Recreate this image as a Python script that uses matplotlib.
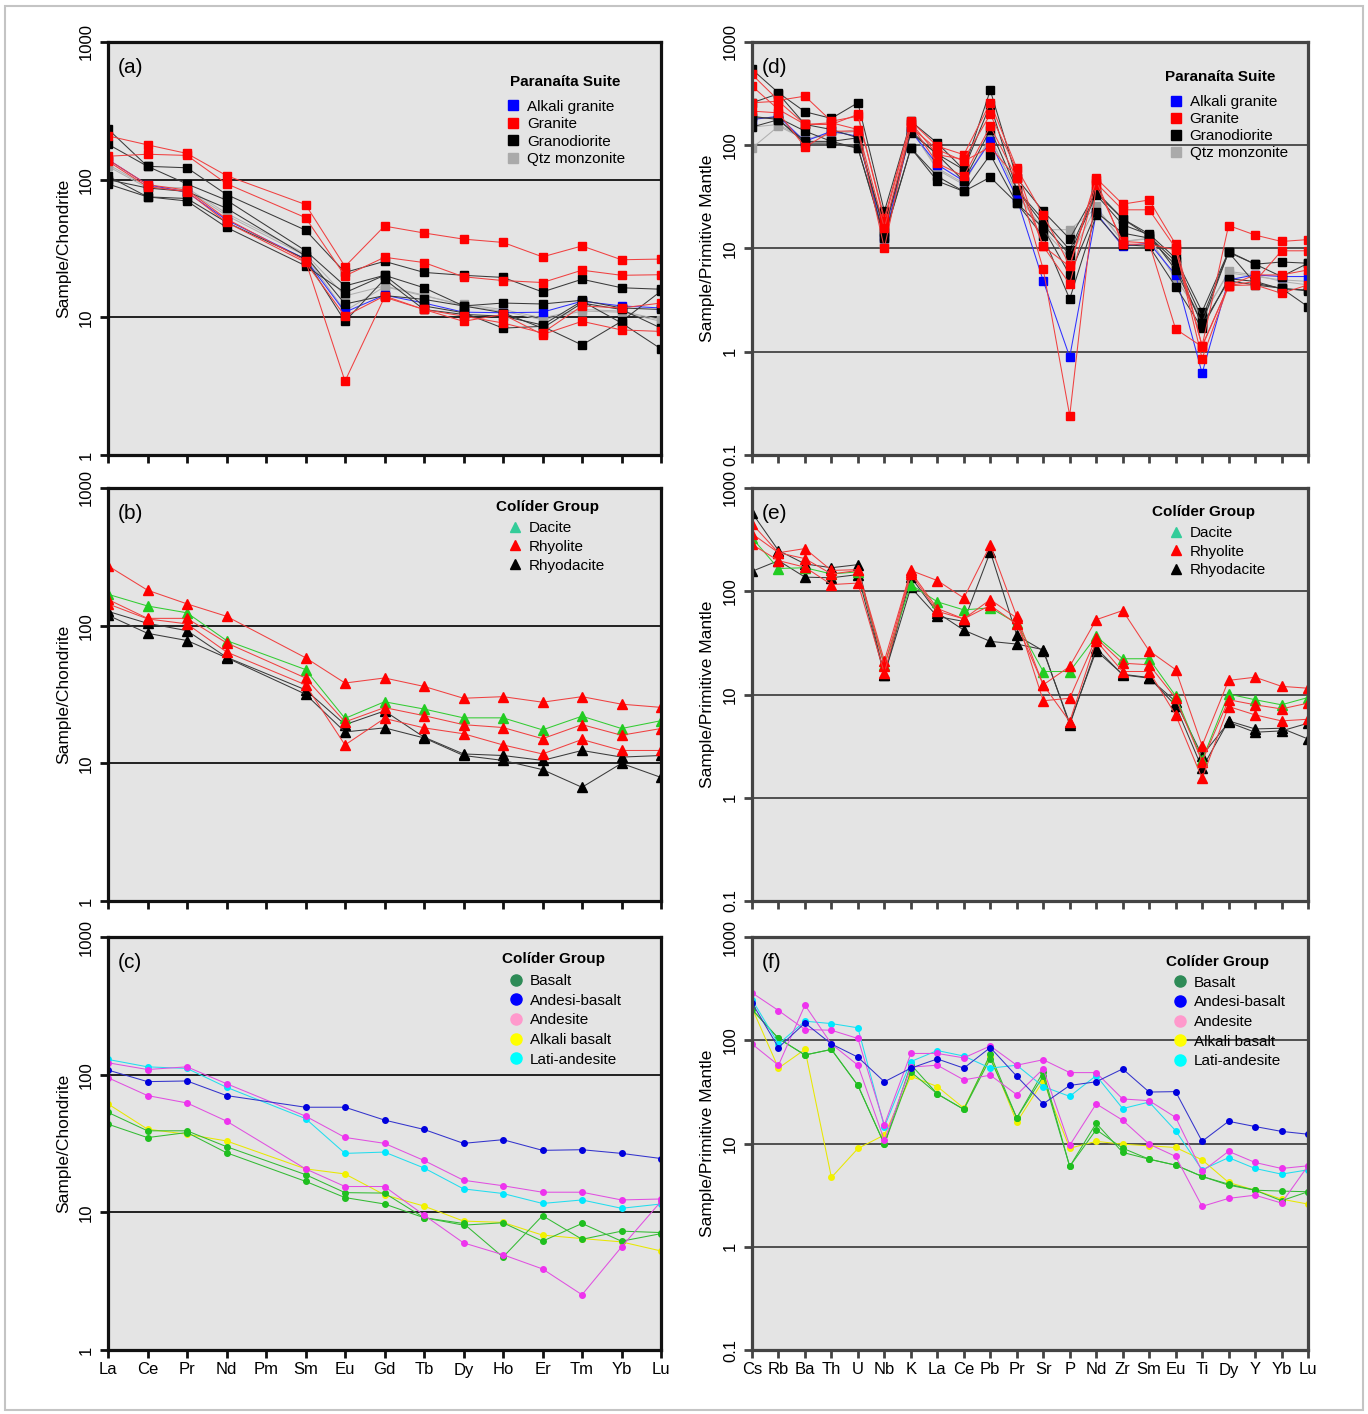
import numpy as np
import matplotlib
matplotlib.use("Agg")
import matplotlib.pyplot as plt
from matplotlib.lines import Line2D
from matplotlib.patches import Rectangle
from matplotlib.ticker import NullLocator

plt.rcParams['font.family'] = ['Liberation Sans', 'DejaVu Sans']

nan = np.nan

# element order on the x axis
ree = ['La', 'Ce', 'Pr', 'Nd', 'Pm', 'Sm', 'Eu', 'Gd', 'Tb', 'Dy', 'Ho', 'Er', 'Tm', 'Yb', 'Lu']
spider = ['Cs', 'Rb', 'Ba', 'Th', 'U', 'Nb', 'K', 'La', 'Ce', 'Pb', 'Pr', 'Sr', 'P', 'Nd',
          'Zr', 'Sm', 'Eu', 'Ti', 'Dy', 'Y', 'Yb', 'Lu']

# ---- (a) Paranaita Suite, chondrite normalised (Pm not analysed)
a_alkali = [[140, 92, 81, 51, nan, 26.5, 10.9, 14.5, 12.7, 10.9, 10.8, 10.9, 13.1, 12.1, 11.7]]
a_granite = [
    [208, 179, 155, 107, nan, 66, 23.4, 46, 41, 37, 35, 27.5, 33, 26.2, 26.5],
    [148, 153, 150, 93.5, nan, 53, 20, 27.3, 25, 19.7, 18.5, 17.9, 22, 20.2, 20.4],
    [140, 92, 84, 52, nan, 25.8, 3.44, 14, 11.4, 9.35, 10.5, 7.5, 9.35, 8.1, 7.9],
    [136, 89, 82, 49, nan, 25.1, 10.2, 14.3, 11.4, 10.2, 9.1, 7.7, 12.1, 11.7, 12.7],
]
a_granodiorite = [
    [233, 125, 122, 78, nan, 43, 21.2, 25.5, 21.2, 20.2, 19.5, 15.3, 18.9, 16.4, 16],
    [181, 125, 93, 71, nan, 30.5, 16.9, 20.2, 16.4, 12.1, 12.7, 12.5, 13.3, 11.7, 11.4],
    [106, 75, 70, 45, nan, 23.7, 15.1, 20.2, 12.1, 10.8, 8.35, 8.6, 6.3, 9.35, 15.5],
    [93, 75, 73, 49, nan, 26.5, 9.35, 18.9, 11.4, 10.5, 10.2, 8.8, 13.1, 9.1, 5.9],
    [100, 87, 82, 62, nan, 28, 12.5, 14.4, 13.5, 12.1, 10.8, 8.35, 12.7, 11.4, 8.35],
]
a_qtz = [
    [125, 87, 84, 55, nan, 28, 11.1, 16.7, 14.3, 12.4, 11.4, 9.9, 11.4, 11.1, 9.6],
    [129, 89, 87, 57, nan, 29, 14.3, 16.9, 14.5, 12.1, 11.1, 9.6, 11.1, 10.9, 9.35],
]

# ---- (b) Colider Group felsic, chondrite normalised
b_dacite = [[169, 139, 124, 78, nan, 48, 21.2, 28, 24.8, 21.4, 21.4, 17.5, 22, 17.9, 20.4]]
b_rhyolite = [
    [272, 181, 144, 117, nan, 58.5, 38.3, 41.7, 36.2, 29.7, 30.5, 27.8, 30.5, 26.9, 25.5],
    [155, 113, 113, 75, nan, 41.7, 20, 25.4, 22.2, 19.1, 18.2, 15.1, 19.1, 16, 17.9],
    [144, 112, 103, 64.4, nan, 37.2, 13.6, 21.2, 18.1, 16.4, 13.6, 11.7, 14.9, 12.4, 12.4],
]
b_rhyodacite = [
    [127, 104, 92, 59, nan, 34.2, 19.1, 24, 15.5, 11.7, 11.4, 10.5, 12.4, 11.1, 11.4],
    [119, 88, 78, 58.5, nan, 31.8, 16.9, 18.1, 15.3, 11.4, 10.5, 9, 6.7, 10, 7.9],
]

# ---- (c) Colider Group mafic-intermediate, chondrite normalised
c_basalt = [
    [53.2, 39.1, 39.1, 30, nan, 18.8, 13.9, 13.8, 9.14, 8.3, 4.73, 9.46, 6.37, 7.3, 7.13],
    [43.7, 34.9, 38, 27.1, nan, 16.8, 12.8, 11.5, 9.14, 8.07, 8.4, 6.17, 8.3, 6.17, 7.0],
]
c_andesi_basalt = [[108, 89, 90, 70.5, nan, 58, 58, 46.8, 40, 31.7, 33.7, 28.2, 28.5, 26.8, 24.6]]
c_andesite = [
    [122, 109, 114, 86, nan, 50, 35, 31.7, 23.8, 17.1, 15.6, 14, 14, 12.3, 12.5],
    [95, 70.5, 62.3, 46, nan, 20.7, 15.4, 15.4, 9.55, 6.0, 4.92, 3.88, 2.52, 5.6, 12],
]
c_alkali_basalt = [[61.3, 40.2, 36.9, 33, nan, 20.7, 19, 13.4, 11.1, 8.64, 8.45, 6.83, 6.45, 6.1, 5.24]]
c_lati_andesite = [[129, 114, 111, 81, nan, 48, 26.8, 27.4, 21, 14.8, 13.7, 11.6, 12.3, 10.7, 11.5]]

# ---- (d) Paranaita Suite, primitive mantle normalised
d_alkali = [[177, 191, 109, 137, 122, 12.6, 137, 65, 45, 109, 30.8, 4.86, 0.89, 22, 10.5, 11.3,
             5.55, 0.62, 4.97, 5.55, 5.35, 5.35]]
d_granite = [
    [485, 272, 299, 171, 191, 19.7, 171, 98, 81, 258, 60, 21.2, 6.85, 48, 26.9, 29.5, 11, 1.14, 16.7, 13.5, 11.7, 12.2],
    [374, 222, 159, 159, 199, 18.3, 165, 81, 73, 199, 58, 10.5, 4.54, 43, 23.7, 23.7, 10.1, 0.86, 4.37, 4.8, 9.5, 9.5],
    [214, 206, 96, 137, 137, 10.1, 159, 67, 50, 153, 48, 6.3, 0.24, 41.5, 11.7, 11.3, 1.66, 1.12, 4.37, 4.44, 3.68, 4.44],
    [258, 267, 159, 165, 142, 15.8, 150, 91, 70, 96, 48, 10.5, 6.7, 46, 11, 11, 9.7, 1.14, 4.37, 5.55, 5.55, 6.2],
]
d_granodiorite = [
    [543, 322, 211, 182, 258, 22.9, 171, 105, 58, 340, 48, 22.9, 12.4, 35.7, 19.4, 13.8, 8.05, 2.45, 9.35, 7.05, 7.4, 7.2],
    [258, 315, 159, 142, 118, 15.2, 132, 82, 58, 248, 37, 19, 9.7, 34.4, 19.4, 13.1, 7.5, 2.11, 9.2, 4.6, 4.12, 2.73],
    [191, 177, 109, 109, 94, 13.1, 94, 45, 35.7, 81, 27.5, 13.1, 3.24, 21.2, 10.9, 10.5, 4.28, 1.69, 5.1, 4.8, 4.06, 3.97],
    [150, 177, 105, 105, 94, 12.6, 94, 50, 35.7, 49, 27.5, 15.8, 5.55, 22.5, 14.1, 12.6, 6.9, 1.82, 4.86, 4.44, 4.12, 3.88],
    [184, 184, 137, 109, 118, 14.6, 137, 81, 45, 142, 37, 17, 8.7, 33.2, 17, 13.6, 6.2, 1.88, 9.2, 7.05, 5.35, 7.2],
]
d_qtz = [
    [94, 153, 114, 127, 137, 11.3, 142, 58, 41.5, 122, 33.2, 15.2, 15.2, 24.6, 11.7, 12.6, 5.15, 2.11, 6.0, 5.55, 4.8, 4.44],
    [150, 159, 114, 132, 142, 11, 145, 60, 43, 118, 34.4, 15.2, 8.05, 25.6, 11.7, 12.4, 5.1, 2.19, 5.8, 5.35, 4.97, 4.8],
]

# ---- (e) Colider Group felsic, primitive mantle normalised
e_dacite = [[329, 166, 169, 147, 154, 19.4, 116, 79, 66, 69, 49, 16.7, 16.7, 36.6, 22.2, 22.2,
             9.7, 2.32, 10.1, 8.9, 7.95, 9.35]]
e_rhyolite = [
    [450, 236, 259, 159, 162, 21.2, 159, 127, 86, 280, 57, 12.4, 18.7, 53, 65, 26.5, 17.4, 3.2, 13.7, 14.7, 12, 11.5],
    [361, 236, 207, 147, 159, 18.7, 154, 68, 54, 83, 55, 8.7, 9.2, 35.2, 20.1, 19.4, 9.2, 2.24, 8.9, 7.95, 7.25, 8.25],
    [284, 198, 171, 116, 120, 16.1, 147, 64, 54, 73, 48, 12.4, 5.47, 33.2, 16.7, 16.7, 6.35, 1.54, 7.65, 6.35, 5.55, 5.76],
]
e_rhyodacite = [
    [576, 248, 184, 169, 181, 15.5, 109, 57, 51, 241, 37.4, 26.5, 5.27, 26.5, 15.7, 14.6, 7.8, 1.93, 5.55, 4.64, 4.71, 3.71],
    [156, 198, 137, 135, 145, 15.3, 137, 62, 42, 32.7, 30.8, 27.2, 5.08, 28.2, 15.5, 14.4, 8.55, 2.56, 5.38, 4.31, 4.44, 5.27],
]

# ---- (f) Colider Group mafic-intermediate, primitive mantle normalised
f_basalt = [
    [199, 104, 72, 81.5, 36.5, 9.85, 49.4, 30.2, 21.4, 66.4, 17.7, 49.4, 5.99, 15.7, 8.2, 7.05, 6.17, 4.8, 4.04, 3.53, 3.46, 3.41],
    [199, 104, 72, 81.5, 36.5, 9.85, 58.2, 30.2, 21.4, 73.3, 17.7, 44.8, 5.99, 13.6, 9.0, 7.05, 6.17, 4.8, 3.95, 3.53, 2.79, 3.41],
]
f_andesi_basalt = [[230, 85, 147, 92, 68.6, 39.6, 53.7, 65.9, 53.7, 85, 44.8, 24.2, 36.5, 39.6, 52.8, 31.5,
                    31.8, 10.5, 16.4, 14.6, 13.1, 12.3]]
f_andesite = [
    [288, 194, 127, 125, 104, 15.2, 74.5, 74.5, 67.5, 88, 57.3, 64.8, 48.6, 48.6, 27, 26, 17.9, 5.36, 8.4, 6.55, 5.73, 6.08],
    [92, 57.3, 219, 92, 57.3, 10.7, 55, 57.3, 41.3, 45.9, 29.7, 52.8, 9.6, 24.2, 16.8, 9.85, 7.5, 2.46, 2.94, 3.16, 2.65, 6.08],
]
f_alkali_basalt = [[206, 53.7, 81.5, 4.69, 8.95, 12.1, 44.8, 35.6, 22, 70.3, 16.1, 40.6, 9.0, 10.5, 9.85, 9.5,
                    9.15, 6.95, 4.2, 3.53, 2.89, 2.59]]
f_lati_andesite = [[248, 92, 153, 145, 132, 14.5, 62.2, 79.5, 70.3, 53.7, 57.3, 35.6, 28.6, 45.5, 21.8, 25.2,
                    13.3, 5.56, 7.3, 5.73, 5.05, 5.56]]

W, H = 1368, 1414
fig = plt.figure(figsize=(W / 100, H / 100), dpi=100)
fig.patches.append(Rectangle((5 / W, 4 / H), 1358 / W, 1404 / H, transform=fig.transFigure,
                             fill=False, ec='#c4c4c4', lw=1.5))


def make_ax(x0, x1, y_top, y_bot):
    return fig.add_axes([x0 / W, 1 - y_bot / H, (x1 - x0) / W, (y_bot - y_top) / H])


def setup(ax, labels, ylo, ylabel, show_x, frame, grid):
    ax.set_yscale('log')
    ax.set_ylim(ylo, 1000)
    ax.set_xlim(0, len(labels) - 1)
    ax.set_facecolor('#e4e4e4')
    for s in ax.spines.values():
        s.set_linewidth(2.3)
        s.set_color(frame)
        s.set_zorder(5)
    for g in grid:
        ax.axhline(g, color=frame, lw=1.3, zorder=1)
    ax.set_xticks(range(len(labels)))
    ax.set_xticklabels(labels if show_x else [])
    dec = [10.0 ** k for k in range(int(round(np.log10(ylo))), 4)]
    ax.set_yticks(dec)
    ax.set_yticklabels(['%g' % d for d in dec])
    ax.yaxis.set_minor_locator(NullLocator())
    ax.tick_params(direction='out', length=6, width=2, color=frame, labelsize=12, pad=3)
    ax.tick_params(axis='y', labelrotation=90, pad=4)
    for lab in ax.get_yticklabels():
        lab.set_va('center')
    ax.set_ylabel(ylabel, fontsize=12.5, labelpad=6)


def draw(ax, rows, mcolor, lcolor, marker, ms):
    for row in rows:
        y = np.array(row, dtype=float)
        x = np.arange(len(y))
        m = ~np.isnan(y)
        ax.plot(x[m], y[m], color=lcolor, lw=0.75, marker=marker, ms=ms,
                mfc=mcolor, mec=mcolor, zorder=3)


def legend(ax, title, names, colors, marker, ms, tx, ty, lx, ly, sp):
    ax.text(tx, ty, title, transform=ax.transAxes, fontsize=11, fontweight='bold',
            ha='left', va='center', zorder=6)
    hs = [Line2D([], [], ls='none', marker=marker, ms=ms, mfc=c, mec=c) for c in colors]
    lg = ax.legend(hs, names, loc='upper left', bbox_to_anchor=(lx, ly),
                   frameon=False, fontsize=11, borderpad=0, borderaxespad=0,
                   handlelength=0.9, handletextpad=0.45, labelspacing=sp)
    lg.set_zorder(6)


def tag(ax, s):
    ax.text(0.018, 0.962, s, transform=ax.transAxes, fontsize=15, va='top', ha='left')


LX0, LX1 = 108, 661
RX0, RX1 = 752, 1308
rows_y = [(42, 455), (488, 901), (937, 1350)]

axa = make_ax(LX0, LX1, *rows_y[0])
axb = make_ax(LX0, LX1, *rows_y[1])
axc = make_ax(LX0, LX1, *rows_y[2])
axd = make_ax(RX0, RX1, *rows_y[0])
axe = make_ax(RX0, RX1, *rows_y[1])
axf = make_ax(RX0, RX1, *rows_y[2])

for ax, lab in [(axa, False), (axb, False), (axc, True)]:
    setup(ax, ree, 1, 'Sample/Chondrite', lab, '#111111', [10, 100])
for ax, lab in [(axd, False), (axe, False), (axf, True)]:
    setup(ax, spider, 0.1, 'Sample/Primitive Mantle', lab, '#444444', [1, 10, 100])

RED, BLK, GRY, BLU = '#ff0000', '#000000', '#a0a0a0', '#0000ff'

# (a) and (d)
for ax, qz, grd, gr, alk in [(axa, a_qtz, a_granodiorite, a_granite, a_alkali),
                             (axd, d_qtz, d_granodiorite, d_granite, d_alkali)]:
    draw(ax, qz, GRY, '#b0b0b0', 's', 5.4)
    draw(ax, alk, BLU, '#3030ff', 's', 5.4)
    draw(ax, grd, BLK, '#3a3a3a', 's', 5.4)
    draw(ax, gr, RED, '#f04040', 's', 5.4)

# (b) and (e)
for ax, dac, rhy, rdc in [(axb, b_dacite, b_rhyolite, b_rhyodacite),
                          (axe, e_dacite, e_rhyolite, e_rhyodacite)]:
    draw(ax, rdc, BLK, '#3a3a3a', '^', 6.5)
    draw(ax, dac, '#22cc22', '#33cc33', '^', 6.5)
    draw(ax, rhy, RED, '#f04040', '^', 6.5)

# (c) and (f)
for ax, bas, ab, an, alb, lat in [(axc, c_basalt, c_andesi_basalt, c_andesite, c_alkali_basalt, c_lati_andesite),
                                  (axf, f_basalt, f_andesi_basalt, f_andesite, f_alkali_basalt, f_lati_andesite)]:
    draw(ax, alb, '#f2f200', '#e8e800', 'o', 4)
    draw(ax, bas, '#1fbf1f', '#33bb33', 'o', 4)
    draw(ax, lat, '#00e8ff', '#22ddee', 'o', 4)
    draw(ax, an, '#ee33ee', '#e050e0', 'o', 4)
    draw(ax, ab, '#0000dd', '#3333cc', 'o', 4)

tag(axa, '(a)'); tag(axb, '(b)'); tag(axc, '(c)')
tag(axd, '(d)'); tag(axe, '(e)'); tag(axf, '(f)')

suite = ['Alkali granite', 'Granite', 'Granodiorite', 'Qtz monzonite']
suite_c = [BLU, RED, BLK, '#aaaaaa']
felsic = ['Dacite', 'Rhyolite', 'Rhyodacite']
felsic_c = ['#33cc99', RED, BLK]
mafic = ['Basalt', 'Andesi-basalt', 'Andesite', 'Alkali basalt', 'Lati-andesite']
mafic_c = ['#2e8b57', '#0000ff', '#ff99cc', '#ffff00', '#00ffff']

legend(axa, 'Paranaíta Suite', suite, suite_c, 's', 6.5, 0.727, 0.903, 0.720, 0.860, 0.22)
legend(axd, 'Paranaíta Suite', suite, suite_c, 's', 6.5, 0.743, 0.915, 0.750, 0.872, 0.20)
legend(axb, 'Colíder Group', felsic, felsic_c, '^', 7.5, 0.702, 0.954, 0.723, 0.920, 0.31)
legend(axe, 'Colíder Group', felsic, felsic_c, '^', 7.5, 0.719, 0.942, 0.750, 0.908, 0.31)
legend(axc, 'Colíder Group', mafic, mafic_c, 'o', 8, 0.712, 0.947, 0.725, 0.910, 0.37)
legend(axf, 'Colíder Group', mafic, mafic_c, 'o', 8, 0.745, 0.939, 0.757, 0.906, 0.37)

fig.savefig('out.png', dpi=100)
